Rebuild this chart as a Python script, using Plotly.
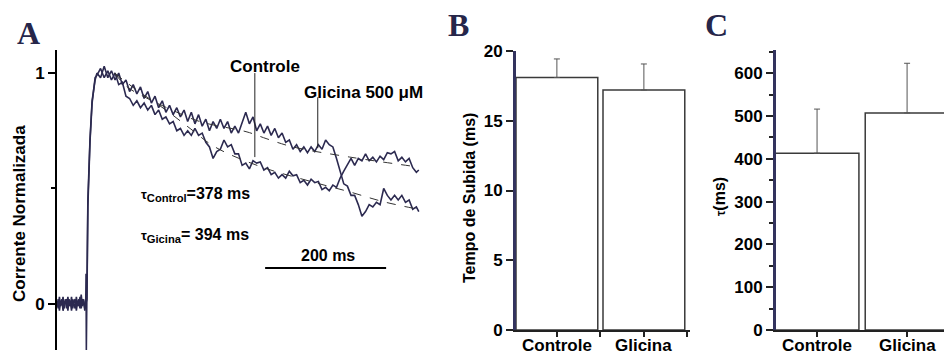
import plotly.graph_objects as go

W, H = 944, 355

# ---------------- Panel A data ----------------
base_t = [0, 2, 4, 6, 8, 10, 12, 14, 16, 18, 20, 22, 24, 26, 28, 30, 32, 34, 36, 38, 40, 42, 44, 46]
base_glic = [0.01, -0.02, 0.03, -0.01, 0.02, -0.03, 0.0, 0.02, -0.02, 0.03, -0.01, 0.01,
             -0.03, 0.02, 0.0, -0.02, 0.03, -0.01, 0.02, -0.02, 0.04, -0.01, 0.02, -0.02]
base_ctrl = [-0.01, 0.02, -0.03, 0.01, 0.0, 0.03, -0.02, 0.01, 0.02, -0.03, 0.02, -0.01,
             0.03, -0.02, 0.01, 0.02, -0.03, 0.01, -0.01, 0.03, -0.02, 0.02, 0.01, -0.03]

rise_t_glic = [47.5, 48.0, 48.5, 49.5, 51.0, 54.5, 58.0, 63.0]
rise_glic = [0.0, 0.13, -0.2, 0.0, 0.45, 0.71, 0.88, 0.97]
rise_t_ctrl = [47.5, 49.5, 51.0, 54.5, 58.0, 63.0]
rise_ctrl = [0.0, 0.02, 0.42, 0.70, 0.87, 0.98]

decay_t = [66, 72, 78, 84, 90, 96, 102, 108, 114, 120, 126, 132, 138, 144, 150, 156, 162, 168,
           174, 180, 186, 192, 198, 204, 210, 216, 222, 228, 234, 240, 246, 252, 258, 264, 270,
           276, 282, 288, 294, 300, 306, 312, 318, 324, 330, 336, 342, 348, 354, 360, 366, 372,
           378, 384, 390, 396, 402, 408, 414, 420, 426, 432, 438, 444, 450, 456, 462, 468, 474,
           480, 486, 492, 498, 504, 510, 516, 522, 528, 534, 540, 546, 552, 558, 564, 570, 576,
           582, 588, 594, 598]

decay_glic = [1.00, 0.98, 1.03, 0.98, 1.01, 0.97, 1.00, 0.95, 0.97, 0.92, 0.95, 0.91, 0.94, 0.89,
              0.92, 0.87, 0.90, 0.85, 0.88, 0.83, 0.86, 0.82, 0.85, 0.81, 0.84, 0.79, 0.83, 0.78,
              0.82, 0.77, 0.80, 0.75, 0.79, 0.76, 0.80, 0.76, 0.79, 0.74, 0.77, 0.74, 0.79, 0.83,
              0.78, 0.81, 0.75, 0.78, 0.74, 0.77, 0.73, 0.76, 0.72, 0.74, 0.70, 0.71, 0.67, 0.69,
              0.66, 0.68, 0.655, 0.68, 0.66, 0.69, 0.67, 0.71, 0.69, 0.68, 0.63, 0.58, 0.52, 0.51,
              0.47, 0.47, 0.43, 0.38, 0.40, 0.43, 0.42, 0.44, 0.43, 0.50, 0.47, 0.45, 0.47, 0.45,
              0.47, 0.44, 0.45, 0.41, 0.42, 0.40]

decay_ctrl = [0.99, 1.02, 0.98, 1.01, 0.97, 1.00, 0.95, 0.96, 0.90, 0.89, 0.86, 0.88, 0.85, 0.87,
              0.84, 0.86, 0.82, 0.84, 0.80, 0.81, 0.78, 0.79, 0.75, 0.76, 0.73, 0.75, 0.73, 0.76,
              0.73, 0.74, 0.70, 0.68, 0.63, 0.66, 0.67, 0.71, 0.68, 0.69, 0.65, 0.65, 0.60, 0.61,
              0.585, 0.62, 0.61, 0.615, 0.58, 0.59, 0.56, 0.57, 0.545, 0.56, 0.545, 0.575, 0.555,
              0.56, 0.525, 0.535, 0.515, 0.54, 0.525, 0.53, 0.495, 0.505, 0.49, 0.515, 0.505, 0.545,
              0.575, 0.605, 0.63, 0.60, 0.63, 0.62, 0.65, 0.62, 0.635, 0.615, 0.64, 0.625, 0.655,
              0.65, 0.66, 0.62, 0.635, 0.615, 0.63, 0.59, 0.57, 0.58]

fit_glic_t = [95, 116, 142, 190, 236, 314, 347, 390, 484, 597]
fit_glic = [1.0, 0.94, 0.90, 0.84, 0.79, 0.745, 0.715, 0.68, 0.636, 0.593]
fit_ctrl_t = [95, 130, 180, 220, 261, 336, 420, 484, 539, 597]
fit_ctrl = [1.0, 0.93, 0.84, 0.76, 0.68, 0.595, 0.53, 0.485, 0.443, 0.41]

# ---------------- Panels B and C data ----------------
categories = ["Controle", "Glicina"]
cat_pos = [0, 1]
rise_time = [18.1, 17.2]
rise_err = [1.33, 1.87]
tau_vals = [413, 507]
tau_err = [103, 116]

TRACE = "#2c2a50"
NAVY = "#33335e"
FONT = "Liberation Sans"


def px(x):
    return x / W


def py(y):
    return (H - y) / H


fig = go.Figure()

# Panel A traces
fig.add_trace(go.Scatter(x=base_t + rise_t_glic + decay_t, y=base_glic + rise_glic + decay_glic,
                         mode="lines", line=dict(color=TRACE, width=1.6), xaxis="x", yaxis="y"))
fig.add_trace(go.Scatter(x=base_t + rise_t_ctrl + decay_t, y=base_ctrl + rise_ctrl + decay_ctrl,
                         mode="lines", line=dict(color=TRACE, width=1.6), xaxis="x", yaxis="y"))
fig.add_trace(go.Scatter(x=fit_glic_t, y=fit_glic, mode="lines", line_shape="spline",
                         line=dict(color="#333333", width=1, dash="dash"), xaxis="x", yaxis="y"))
fig.add_trace(go.Scatter(x=fit_ctrl_t, y=fit_ctrl, mode="lines", line_shape="spline",
                         line=dict(color="#333333", width=1, dash="dash"), xaxis="x", yaxis="y"))

bar_line = dict(color="#3a3a3a", width=1.5)
fig.add_trace(go.Bar(x=cat_pos, y=rise_time, width=0.94, marker=dict(color="white", line=bar_line),
                     error_y=dict(type="data", symmetric=False, array=rise_err, arrayminus=[0, 0],
                                  color="#555555", thickness=1, width=3),
                     xaxis="x2", yaxis="y2"))
fig.add_trace(go.Bar(x=cat_pos, y=tau_vals, width=0.93, marker=dict(color="white", line=bar_line),
                     error_y=dict(type="data", symmetric=False, array=tau_err, arrayminus=[0, 0],
                                  color="#555555", thickness=1, width=3),
                     xaxis="x3", yaxis="y3"))

tickfont = dict(family=FONT, size=17, color="black", weight="bold")

fig.update_layout(
    width=W, height=H, margin=dict(l=0, r=0, t=0, b=0, autoexpand=False),
    paper_bgcolor="white", plot_bgcolor="white", showlegend=False,
    xaxis=dict(domain=[px(57), px(420)], range=[0, 600], visible=False, automargin=False),
    yaxis=dict(domain=[py(350), py(50)], range=[-0.2, 1.1], tickvals=[0, 1], ticktext=["0", "1"],
               showline=True, linecolor="black", linewidth=2, ticks="outside", ticklen=7,
               tickwidth=1.5, tickcolor="black", showgrid=False, zeroline=False, tickfont=tickfont,
               automargin=False,
               minor=dict(tickvals=[0.5], ticks="outside", ticklen=4, tickcolor="black")),
    xaxis2=dict(domain=[px(516), px(690)], range=[-0.47, 1.53], tickvals=cat_pos,
                showticklabels=False,
                showline=True, linecolor="#222222", linewidth=2, ticks="outside", ticklen=5,
                tickwidth=1.5, tickcolor="#222222", showgrid=False, zeroline=False,
                anchor="y2", automargin=False,
                minor=dict(tickvals=[0.5, 1.5], ticks="outside", ticklen=5, tickcolor="#222222")),
    yaxis2=dict(domain=[py(330), py(51)], range=[0, 20], dtick=5, showline=True, linecolor=NAVY,
                linewidth=3, ticks="outside", ticklen=7, tickwidth=1.5, tickcolor="#222222",
                showgrid=False, zeroline=False, tickfont=tickfont, anchor="x2", automargin=False),
    xaxis3=dict(domain=[px(776), 1.0], range=[-0.456, 1.41], tickvals=cat_pos,
                showticklabels=False,
                showline=True, linecolor="#222222", linewidth=2, ticks="outside", ticklen=5,
                tickwidth=1.5, tickcolor="#222222", showgrid=False, zeroline=False,
                anchor="y3", automargin=False),
    yaxis3=dict(domain=[py(330), py(50)], range=[0, 654], dtick=100, showline=True, linecolor=NAVY,
                linewidth=3, ticks="outside", ticklen=7, tickwidth=1.5, tickcolor="#222222",
                showgrid=False, zeroline=False, tickfont=tickfont, anchor="x3", automargin=False,
                minor=dict(dtick=50, ticks="outside", ticklen=4, tickcolor="#222222")),
)

# category labels under bar panels
for xr in ["x2", "x3"]:
    for pos, name in zip(cat_pos, categories):
        fig.add_annotation(text=name, x=pos, xref=xr, y=py(345), yref="paper", showarrow=False,
                           xanchor="center", yanchor="middle",
                           font=dict(family=FONT, size=17, color="black", weight="bold"))

# scale bar and pointer lines (data coordinates of panel A)
fig.add_shape(type="line", xref="x", yref="y", x0=344, x1=544, y0=0.155, y1=0.155,
              line=dict(color="black", width=2))
fig.add_shape(type="line", xref="x", yref="y", x0=327, x1=327, y0=1.0, y1=0.636,
              line=dict(color="#222222", width=1))
fig.add_shape(type="line", xref="x", yref="y", x0=431, x1=431, y0=0.895, y1=0.675,
              line=dict(color="#222222", width=1))


def ann(text, x, y, size=17, angle=0, family=FONT, color="black", bold=True):
    fig.add_annotation(text=text, x=px(x), y=py(y), xref="paper", yref="paper", showarrow=False,
                       textangle=angle, xanchor="center", yanchor="middle",
                       font=dict(family=family, size=size, color=color,
                                 weight="bold" if bold else "normal"))


SERIF = "Liberation Serif"
ann("A", 28, 33, size=32, family=SERIF, color="#26264a")
ann("B", 458, 25, size=32, family=SERIF, color="#26264a")
ann("C", 716, 25, size=32, family=SERIF, color="#26264a")

ann("Controle", 265, 67, size=17)
ann("Glicina 500 μM", 363, 92, size=17)
ann("<span style='font-size:13px'>τ</span><sub>Control</sub>=378 ms", 195, 195, size=16)
ann("<span style='font-size:13px'>τ</span><sub>Gicina</sub>= 394 ms", 195, 235, size=16)
ann("200 ms", 328, 256, size=16)

ann("Corrente Normalizada", 19, 214, size=17, angle=-90)
ann("Tempo de Subida (ms)", 470, 198, size=16, angle=-90)
ann("<span style='font-size:12px'>τ</span>(ms)", 720, 197, size=16, angle=-90)

fig.write_html("out.html")
